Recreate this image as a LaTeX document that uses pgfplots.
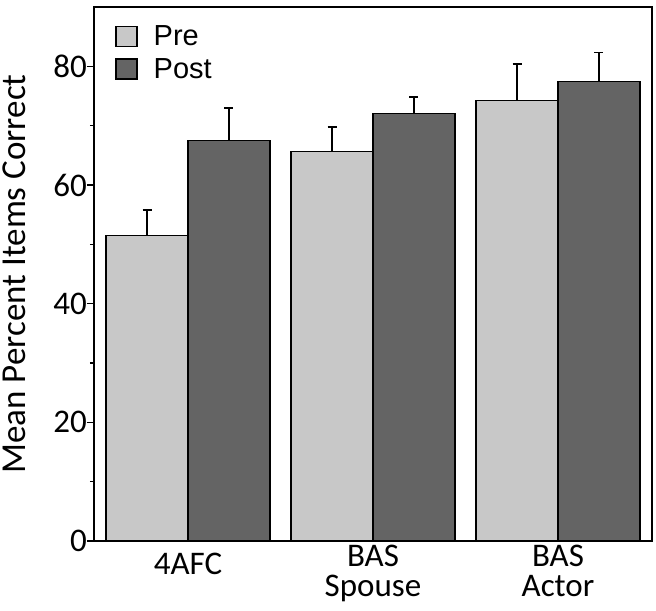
\documentclass[border=0pt]{standalone}
\usepackage{fontspec}
\setmainfont{Carlito}
\newfontfamily\arial{Liberation Sans}
\usepackage{pgfplots}
\pgfplotsset{compat=1.18}
\definecolor{preC}{RGB}{200,200,200}
\definecolor{postC}{RGB}{100,100,100}
\pgfplotsset{legimg/.style={legend image code/.code={\draw[##1, line width=1.5pt] (0pt,-10pt) rectangle (21pt,10pt);}}}
\begin{document}
\begin{tikzpicture}
\begin{axis}[name=ax, scale only axis, width=558pt, height=534pt,
  xmin=-0.508, xmax=2.508, ymin=0, ymax=90,
  axis line style={line width=1.5pt},
  ybar, bar width=0.443,
  xtick={0,1,2},
  xticklabels={{\rule{0pt}{29pt}4AFC},{BAS\\Spouse},{BAS\\Actor}},
  xticklabel style={align=center, font=\fontsize{33}{30}\selectfont, anchor=north, inner sep=0pt, yshift=3pt},
  major x tick style={draw=none},
  ytick={0,20,40,60,80}, minor y tick num=1,
  ytick pos=left, tick align=outside,
  major tick length=7pt, minor tick length=4pt,
  every tick/.style={black, line width=1.3pt},
  yticklabel style={font=\fontsize{33}{33}\selectfont, anchor=east, inner sep=0pt},
  /pgf/number format/assume math mode=true,
  ylabel={Mean Percent Items Correct},
  every axis y label/.style={at={([xshift=-68pt]axis description cs:0,0.5)}, rotate=90, anchor=base, font=\fontsize{35}{35}\selectfont, inner sep=0pt},
  legend style={at={(axis description cs:0.0376,0.965)}, anchor=north west, draw=none, fill=none, inner sep=0pt,
    font=\arial\fontsize{29}{29}\selectfont, row sep=11pt, nodes={inner sep=0pt},
    /tikz/every odd column/.append style={column sep=16pt}},
  legend cell align=left,
]
\addplot[legimg, fill=preC, draw=black, line width=1.3pt, bar shift=-0.2215,
  error bars/.cd, y dir=plus, y explicit,
  error bar style={line width=1.5pt, black},
  error mark options={rotate=90, mark size=4.5pt, line width=1.5pt, black}]
  coordinates {(0,51.5) +- (0,4.3) (1,65.6) +- (0,4.2) (2,74.2) +- (0,6.2)};
\addlegendentry{Pre}
\addplot[legimg, fill=postC, draw=black, line width=1.3pt, bar shift=0.2215,
  error bars/.cd, y dir=plus, y explicit,
  error bar style={line width=1.5pt, black},
  error mark options={rotate=90, mark size=4.5pt, line width=1.5pt, black}]
  coordinates {(0,67.5) +- (0,5.5) (1,72.1) +- (0,2.7) (2,77.5) +- (0,4.8)};
\addlegendentry{Post}
\end{axis}
\path ([xshift=-94pt,yshift=-70pt]ax.south west) rectangle ([xshift=4pt,yshift=3pt]ax.north east);
\end{tikzpicture}
\end{document}
